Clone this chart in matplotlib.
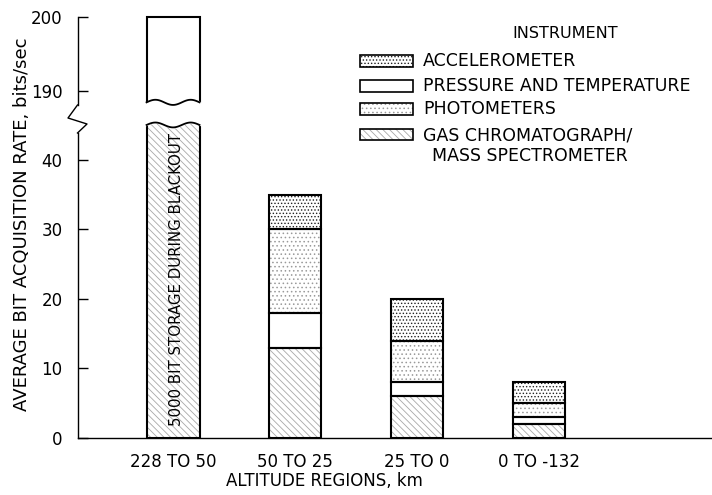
import matplotlib
matplotlib.use('Agg')
import matplotlib.pyplot as plt
import numpy as np
from matplotlib.patches import Rectangle
from matplotlib.lines import Line2D

# data
regions = ['228 TO 50', '50 TO 25', '25 TO 0', '0 TO -132']
blackout_rate = 200          # first region, storage during blackout (off scale)
# stacked instruments for the other three regions, bottom to top
gcms = [13, 6, 2]
press_temp = [5, 2, 1]
photo = [12, 6, 2]
accel = [5, 6, 3]

lower_ticks = [0, 10, 20, 30, 40]
upper_ticks = [190, 200]

legend_names = ['ACCELEROMETER', 'PRESSURE AND TEMPERATURE', 'PHOTOMETERS',
                'GAS CHROMATOGRAPH/']

W, H = 712, 495
plt.rcParams['font.family'] = 'DejaVu Sans'
plt.rcParams['hatch.linewidth'] = 0.6

# fill styles (hatch, hatch colour)
st_accel = ('.....', '#222222')
st_pt = (None, 'white')
st_photo = ('....', '#9a9a9a')
st_gcms = ('\\\\\\\\\\', '#a8a8a8')

fig = plt.figure(figsize=(W / 100, H / 100), dpi=100)
ax_lo = fig.add_axes([78 / W, 1 - 438 / H, (712 - 78) / W, (438 - 118) / H])
ax_hi = fig.add_axes([78 / W, 1 - 109 / H, (712 - 78) / W, (109 - 13) / H])

bw = 0.434
xpos = np.arange(len(regions))


def styled_bar(ax, x, h, bottom, style):
    hatch, hc = style
    ax.bar(x, h, bw, bottom=bottom, color='white', edgecolor=hc, hatch=hatch,
           linewidth=0, zorder=2)
    ax.bar(x, h, bw, bottom=bottom, fill=False, edgecolor='black',
           linewidth=1.5, zorder=3)


# first region: one tall bar split over both axes
styled_bar(ax_lo, xpos[0], blackout_rate, 0, st_gcms)
styled_bar(ax_hi, xpos[0], blackout_rate, 0, st_pt)

# stacked bars
bottom = np.zeros(3)
for vals, style in [(gcms, st_gcms), (press_temp, st_pt), (photo, st_photo), (accel, st_accel)]:
    styled_bar(ax_lo, xpos[1:], vals, bottom, style)
    bottom = bottom + np.array(vals)

# wavy cut of the off-scale bar
t = np.linspace(0, 1, 80)
xs = xpos[0] - bw / 2 + t * bw
xf = np.linspace(xpos[0] - bw / 2 - 0.02, xpos[0] + bw / 2 + 0.02, 80)
wave = 0.35 * np.sin(2 * np.pi * 1.5 * np.linspace(-0.03, 1.03, 80))
ax_lo.fill_between(xf, 45 + wave, 46, color='white', zorder=4)
ax_lo.plot(xs, 45 + 0.35 * np.sin(2 * np.pi * 1.5 * t), color='black', lw=1.3, zorder=5)
ax_hi.fill_between(xf, 187.5, 188.4 + wave, color='white', zorder=4)
ax_hi.plot(xs, 188.4 + 0.35 * np.sin(2 * np.pi * 1.5 * t), color='black', lw=1.3, zorder=5)

ax_lo.text(xpos[0] + 0.03, 22.8, '5000 BIT STORAGE DURING BLACKOUT', rotation=90,
           ha='center', va='center', fontsize=10.8, zorder=6)

xl = (-0.779, 4.418)
for ax in (ax_lo, ax_hi):
    ax.set_xlim(xl)
    ax.spines['top'].set_visible(False)
    ax.spines['right'].set_visible(False)
    ax.spines['left'].set_linewidth(1.0)
    ax.tick_params(axis='y', direction='in', length=7, width=1, pad=11, labelsize=12)
    ax.set_facecolor('none')

ax_lo.set_ylim(0, 46)
ax_lo.set_yticks(lower_ticks)
ax_lo.spines['left'].set_bounds(0, 43.8)
ax_lo.spines['bottom'].set_linewidth(1.0)
ax_lo.set_xticks(xpos)
ax_lo.set_xticklabels(regions, fontsize=12)
ax_lo.tick_params(axis='x', length=0, pad=11)

ax_hi.set_ylim(187.5, 200.5)
ax_hi.set_yticks(upper_ticks)
ax_hi.spines['left'].set_bounds(188, 200)
ax_hi.spines['bottom'].set_visible(False)
ax_hi.set_xticks([])

# axis break zigzag on the left spine
zx = np.array([77.5, 68, 87, 77.5]) / W
zy = 1 - np.array([105, 118, 124, 133]) / H
fig.add_artist(Line2D(zx, zy, color='black', lw=1.0, transform=fig.transFigure))

fig.text(22 / W, 1 - 224 / H, 'AVERAGE BIT ACQUISITION RATE, bits/sec', rotation=90,
         ha='center', va='center', fontsize=13)
fig.text(324 / W, 1 - 481 / H, 'ALTITUDE REGIONS, km', ha='center', va='center', fontsize=12)

# legend
fig.text(565 / W, 1 - 33 / H, 'INSTRUMENT', ha='center', va='center', fontsize=11.5)
rows = [61, 86, 109, 135]
for name, style, yc in zip(legend_names, [st_accel, st_pt, st_photo, st_gcms], rows):
    hatch, hc = style
    fig.add_artist(Rectangle((360 / W, 1 - (yc + 5.5) / H), 53 / W, 11 / H,
                             transform=fig.transFigure, facecolor='white', edgecolor=hc,
                             hatch=hatch, linewidth=0))
    fig.add_artist(Rectangle((360 / W, 1 - (yc + 5.5) / H), 53 / W, 11 / H,
                             transform=fig.transFigure, fill=False, edgecolor='black',
                             linewidth=1.2))
    fig.text(423 / W, 1 - yc / H, name, ha='left', va='center', fontsize=12.5)
fig.text(432 / W, 1 - 156 / H, 'MASS SPECTROMETER', ha='left', va='center', fontsize=12.5)

fig.savefig('out.png', dpi=100)
